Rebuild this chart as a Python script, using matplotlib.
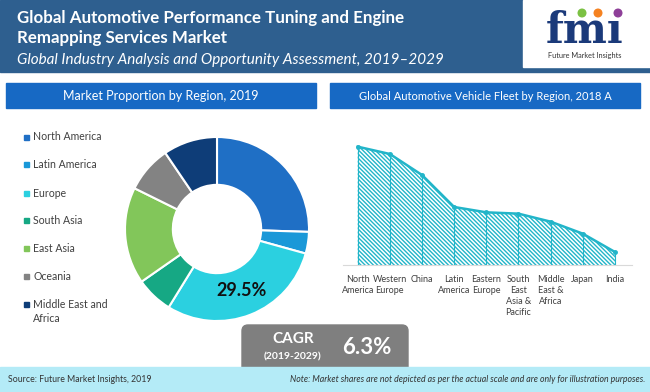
import numpy as np
import matplotlib.pyplot as plt
from matplotlib.patches import Rectangle, FancyBboxPatch

plt.rcParams['font.family'] = ['Lato', 'DejaVu Sans']
plt.rcParams['hatch.linewidth'] = 1.0

# market share by region, 2019 (%)
regions = ['North America', 'Latin America', 'Europe', 'South Asia',
           'East Asia', 'Oceania', 'Middle East and\nAfrica']
shares = [25.5, 3.8, 29.5, 6.5, 17.0, 8.2, 9.5]
region_colors = ['#1f6fc5', '#1a98d8', '#2bd0e0', '#16a884',
                 '#82c65a', '#838383', '#0e3d78']

# vehicle fleet by region, 2018 (relative units)
fleet_regions = ['North\nAmerica', 'Western\nEurope', 'China', 'Latin\nAmerica',
                 'Eastern\nEurope', 'South\nEast\nAsia &\nPacific',
                 'Middle\nEast &\nAfrica', 'Japan', 'India']
fleet_size = [355, 333, 270, 174, 158, 154, 130, 94, 39]

W, H = 650, 392
teal = '#22b5c9'


def px(x, y, w, h):
    return [x / W, 1 - (y + h) / H, w / W, h / H]


fig = plt.figure(figsize=(6.5, 3.92), dpi=100)

# background layer in pixel coordinates
bg = fig.add_axes([0, 0, 1, 1])
bg.set_xlim(0, W)
bg.set_ylim(H, 0)
bg.axis('off')

bg.add_patch(Rectangle((0, 0), W, 72, color='#2e5f8f'))
bg.add_patch(Rectangle((523, 0), 127, 67, color='white'))
bg.text(17, 23, 'Global Automotive Performance Tuning and Engine', color='white',
        fontsize=12.2, fontweight='bold', va='baseline')
bg.text(17, 43, 'Remapping Services Market', color='white',
        fontsize=12.2, fontweight='bold', va='baseline')
bg.text(17, 64, 'Global Industry Analysis and Opportunity Assessment, 2019\u20132029',
        color='white', fontsize=11, style='italic', va='baseline')

# logo
bg.text(585, 43, 'fm\u0131', family='DejaVu Serif', fontweight='bold', fontsize=30,
        color='#1b3a7a', ha='center', va='baseline')
bg.scatter([582, 598, 618], [13, 13, 13], s=30, zorder=3,
           c=['#7bc143', '#f58220', '#8e3f98'])
bg.text(585, 55, 'Future Market Insights', fontsize=5.3, color='#333333',
        ha='center', va='center')

# panel title bars
bg.add_patch(Rectangle((6, 83), 310, 25, color='#1769c4'))
bg.add_patch(Rectangle((330, 83), 310, 25, color='#1769c4'))
bg.text(161, 96, 'Market Proportion by Region, 2019', color='white',
        fontsize=9, ha='center', va='center')
bg.text(485, 96, 'Global Automotive Vehicle Fleet by Region, 2018 A', color='white',
        fontsize=8, ha='center', va='center')

# legend
leg_y = [137, 164, 193, 220, 248, 276, 304]
for lab, col, yy in zip(regions, region_colors, leg_y):
    bg.add_patch(Rectangle((24, yy - 2.5), 5, 5, color=col))
    bg.text(33, yy - 5.5, lab, fontsize=7.6, color='#404040', va='top',
            linespacing=1.4)

# CAGR box and footer
bg.add_patch(FancyBboxPatch((242, 325), 166, 60, boxstyle='round,pad=0,rounding_size=6',
                            color='#7f7f7f'))
bg.add_patch(Rectangle((0, 367), W, 25, color='#b4ebf7'))
bg.text(293, 339, 'CAGR', color='white', fontsize=11, fontweight='bold',
        ha='center', va='center')
bg.text(293, 357, '(2019-2029)', color='white', fontsize=7.5, fontweight='bold',
        ha='center', va='center')
bg.text(367, 347, '6.3%', color='white', fontsize=16, fontweight='bold',
        ha='center', va='center')
bg.text(8, 380, 'Source: Future Market Insights, 2019', fontsize=6.3,
        color='#333333', va='center')
bg.text(645, 380, 'Note: Market shares are not depicted as per the actual scale and '
        'are only for illustration purposes.', fontsize=6.3, style='italic',
        color='#333333', va='center', ha='right')

# donut
ax1 = fig.add_axes(px(125, 137, 184, 184))
wedges, _ = ax1.pie(shares, colors=region_colors, startangle=90, counterclock=False,
                    radius=1, wedgeprops=dict(width=0.52, edgecolor='white', linewidth=1.5))
ax1.set_xlim(-1, 1)
ax1.set_ylim(-1, 1)
ax1.set_aspect('equal')
w = wedges[2]
mid = np.deg2rad((w.theta1 + w.theta2) / 2)
ax1.text(0.72 * np.cos(mid), 0.72 * np.sin(mid), '%.1f%%' % shares[2],
         fontsize=13, fontweight='bold', color='#111111', ha='center', va='center')

# hatched area chart
ax2 = fig.add_axes(px(343, 130, 289, 135))
ax2.patch.set_alpha(0)
x = np.arange(len(fleet_size))
ax2.fill_between(x, fleet_size, 0, facecolor='white', edgecolor=teal,
                 hatch='\\' * 8, linewidth=0)
ax2.vlines(x, 0, fleet_size, color=teal, lw=0.8)
ax2.plot(x, fleet_size, color=teal, lw=1.8, marker='o', ms=2.5)
ax2.set_xlim(-0.457, 8.53)
ax2.set_ylim(0, 405)
for s in ['top', 'right', 'left']:
    ax2.spines[s].set_visible(False)
ax2.spines['bottom'].set_color('#d9d9d9')
ax2.set_yticks([])
ax2.set_xticks(x)
ax2.set_xticklabels(fleet_regions, fontsize=6.5, color='#404040', linespacing=1.3,
                    va='top')
ax2.tick_params(axis='x', length=0, pad=7)

fig.savefig('out.png', dpi=100)
